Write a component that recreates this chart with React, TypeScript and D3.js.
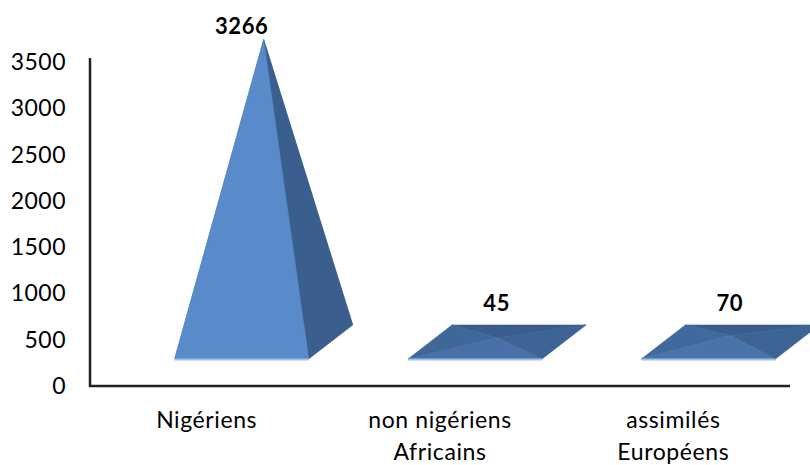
import { useEffect, useRef } from "react";
import * as d3 from "d3";

const categories = ["Nigériens", "non nigériens\nAfricains", "assimilés\nEuropéens"];
const values = [3266, 45, 70];
const yTicks = [0, 500, 1000, 1500, 2000, 2500, 3000, 3500];

const W = 810;
const H = 465;
const FONT = "Lato, 'Liberation Sans', sans-serif";

const App = () => {
    const ref = useRef<SVGSVGElement>(null);

    useEffect(() => {
        const svg = d3.select(ref.current);
        svg.selectAll("*").remove();

        const x = d3.scaleBand<string>()
            .domain(categories)
            .range([90, 790])
            .padding(0);
        const y = d3.scaleLinear()
            .domain([0, 3500])
            .range([386, 62]);

        // 3d floor: front edge of the bases and the depth shift
        const floorY = y(0) - 27;
        const halfW = 67;
        const depth = { dx: 44, dy: -34 };
        const shift = 35;

        const line = d3.line<[number, number]>();

        // pyramids
        values.forEach((v, i) => {
            const cx = x(categories[i])! + x.bandwidth() / 2 + shift;
            const fl: [number, number] = [cx - halfW, floorY];
            const fr: [number, number] = [cx + halfW, floorY];
            const br: [number, number] = [cx + halfW + depth.dx, floorY + depth.dy];
            const bl: [number, number] = [cx - halfW + depth.dx, floorY + depth.dy];
            const h = y(0) - y(v);
            const apex: [number, number] = [cx + depth.dx / 2, floorY + depth.dy / 2 - h];
            const t = h / (h + 18);
            const faces: [[number, number][], string][] = [
                [[bl, br, apex], "#395e8d"],
                [[fl, bl, apex], d3.interpolateRgb("#3c6394", "#4a7ab5")(t)],
                [[fr, br, apex], d3.interpolateRgb("#3e6697", "#3a5e8c")(t)],
                [[fl, fr, apex], d3.interpolateRgb("#426b9e", "#5a8ccc")(t)]
            ];
            const g = svg.append("g");
            faces.forEach(([pts, color]) => {
                g.append("path")
                    .attr("d", line(pts)! + "Z")
                    .attr("fill", color)
                    .attr("stroke", color)
                    .attr("stroke-width", 0.6)
                    .attr("stroke-linejoin", "round");
            });
            g.append("line")
                .attr("x1", fl[0])
                .attr("x2", fr[0])
                .attr("y1", floorY + 0.5)
                .attr("y2", floorY + 0.5)
                .attr("stroke", "#a3c0e8")
                .attr("stroke-width", 2);

            const labelY = Math.min(apex[1], floorY + depth.dy - 9) - 11;
            const labelX = apex[0] - 22 * (v / d3.max(values)!);
            svg.append("text")
                .attr("x", labelX)
                .attr("y", labelY)
                .attr("text-anchor", "middle")
                .attr("dominant-baseline", "middle")
                .style("font-family", FONT)
                .style("font-size", "22px")
                .style("letter-spacing", "0.6px")
                .style("font-weight", "bold")
                .attr("fill", "#000")
                .text(v);
        });

        // axes
        svg.append("line")
            .attr("x1", 90).attr("x2", 90)
            .attr("y1", y(3500) - 4).attr("y2", y(0) + 1)
            .attr("stroke", "#222")
            .attr("stroke-width", 2.5);
        svg.append("line")
            .attr("x1", 89).attr("x2", 790)
            .attr("y1", y(0)).attr("y2", y(0))
            .attr("stroke", "#222")
            .attr("stroke-width", 2.5);

        svg.append("g")
            .selectAll("text")
            .data(yTicks)
            .enter()
            .append("text")
                .attr("x", 66)
                .attr("y", (d) => y(d) + 8)
                .attr("text-anchor", "end")
                .style("font-family", FONT)
                .style("font-size", "23px")
                .style("letter-spacing", "0.5px")
                .attr("fill", "#000")
                .text((d) => d);

        const cat = svg.append("g")
            .selectAll("text")
            .data(categories)
            .enter()
            .append("text")
                .attr("x", (d) => x(d)! + x.bandwidth() / 2)
                .attr("y", 428)
                .attr("text-anchor", "middle")
                .style("font-family", FONT)
                .style("font-size", "23px")
                .style("letter-spacing", "0.6px")
                .attr("fill", "#000");
        cat.selectAll("tspan")
            .data((d) => d.split("\n").map((s) => ({ s, x: x(d)! + x.bandwidth() / 2 })))
            .enter()
            .append("tspan")
                .attr("x", (d) => d.x)
                .attr("dy", (_, j) => (j === 0 ? 0 : 32))
                .text((d) => d.s);
    });

    return (
        <svg
            ref={ref}
            width={W}
            height={H}
            style={{ position: "absolute", left: 0, top: 0, background: "#fff" }}
        />
    );
};

export default App;
